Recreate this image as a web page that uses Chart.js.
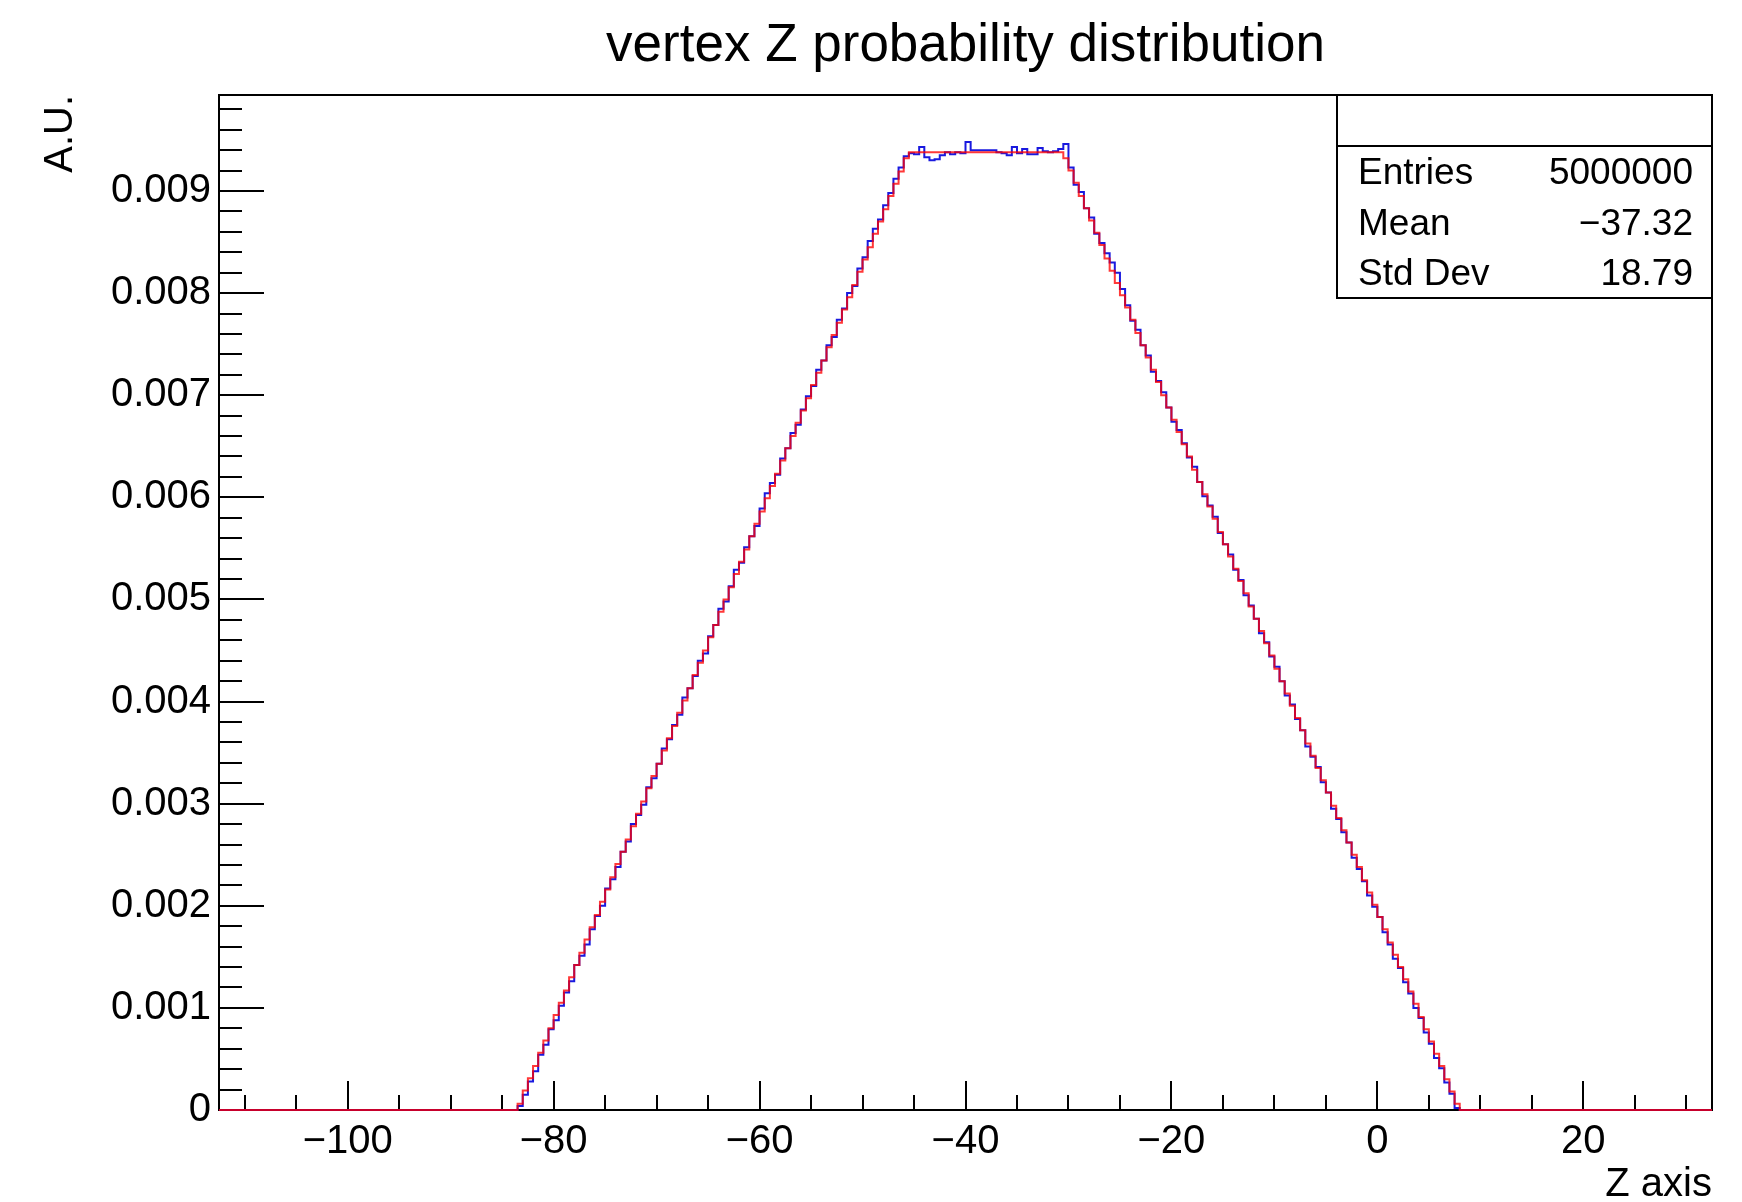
<!DOCTYPE html>
<html><head><meta charset="utf-8">
<script src="https://cdn.jsdelivr.net/npm/chart.js@4.4.0/dist/chart.umd.min.js"></script>
<style>html,body{margin:0;padding:0;background:#fff;}canvas{display:block;}</style>
</head><body>
<canvas id="c" width="1742" height="1202"></canvas>
<script>
// ---------- text ----------
const chartTitle = 'vertex Z probability distribution';
const xAxisTitle = 'Z axis';
const yAxisTitle = 'A.U.';
const statsLabels = ['Entries', 'Mean', 'Std Dev'];
const statsValues = ['5000000', '\u221237.32', '18.79'];

// ---------- binning / ticks ----------
const binLow = -112.5, binHigh = 32.5, binWidth = 0.5;
const firstFilledBin = 59;          // first non-empty bin (starts at z = -83)
const yMax = 0.00994;
const xMajorTicks = [-100, -80, -60, -40, -20, 0, 20];
const xMinorStep = 5;
const yMajorTicks = [0, 0.001, 0.002, 0.003, 0.004, 0.005, 0.006, 0.007, 0.008, 0.009];
const yMinorStep = 0.0002;

// ---------- model (red) bin contents ----------
const modelRise = [0.00006,0.00019,0.00031,0.00043,0.00056,0.00068,0.00080,0.00093,0.00105,0.00117,
0.00130,0.00142,0.00154,0.00167,0.00179,0.00191,0.00204,0.00216,0.00228,0.00241,
0.00253,0.00265,0.00278,0.00290,0.00302,0.00315,0.00327,0.00339,0.00352,0.00364,
0.00376,0.00389,0.00401,0.00413,0.00426,0.00438,0.00450,0.00463,0.00475,0.00488,
0.00500,0.00512,0.00525,0.00537,0.00549,0.00562,0.00574,0.00586,0.00599,0.00611,
0.00623,0.00636,0.00648,0.00660,0.00673,0.00685,0.00697,0.00710,0.00722,0.00734,
0.00747,0.00759,0.00771,0.00784,0.00796,0.00808,0.00821,0.00833,0.00845,0.00858,
0.00870,0.00882,0.00895,0.00907,0.00919,0.00932];
const modelFlat = [0.00938,0.00938,0.00938,0.00938,0.00938,0.00938,0.00938,0.00938,0.00938,0.00938,
0.00938,0.00938,0.00938,0.00938,0.00938,0.00938,0.00938,0.00938,0.00938,0.00938,
0.00938,0.00938,0.00938,0.00938,0.00938,0.00938,0.00938,0.00938,0.00938,0.00938];
const modelFall = [0.00932,0.00920,0.00908,0.00895,0.00883,0.00871,0.00859,0.00847,0.00834,0.00822,
0.00810,0.00798,0.00786,0.00774,0.00761,0.00749,0.00737,0.00725,0.00713,0.00700,
0.00688,0.00676,0.00664,0.00652,0.00640,0.00627,0.00615,0.00603,0.00591,0.00579,
0.00566,0.00554,0.00542,0.00530,0.00518,0.00506,0.00493,0.00481,0.00469,0.00457,
0.00445,0.00432,0.00420,0.00408,0.00396,0.00384,0.00372,0.00359,0.00347,0.00335,
0.00323,0.00311,0.00298,0.00286,0.00274,0.00262,0.00250,0.00238,0.00225,0.00213,
0.00201,0.00189,0.00177,0.00164,0.00152,0.00140,0.00128,0.00116,0.00104,0.00091,
0.00079,0.00067,0.00055,0.00043,0.00030,0.00018,0.00006];

// ---------- data (blue) bin contents ----------
const dataRise = [0.00004,0.00015,0.00028,0.00038,0.00054,0.00064,0.00079,0.00088,0.00102,0.00115,
0.00126,0.00142,0.00151,0.00162,0.00177,0.00190,0.00200,0.00217,0.00226,0.00238,
0.00253,0.00263,0.00280,0.00289,0.00299,0.00316,0.00325,0.00339,0.00354,0.00363,
0.00377,0.00387,0.00404,0.00413,0.00425,0.00440,0.00447,0.00464,0.00475,0.00491,
0.00498,0.00513,0.00529,0.00536,0.00551,0.00562,0.00572,0.00589,0.00604,0.00614,
0.00622,0.00638,0.00648,0.00663,0.00671,0.00686,0.00699,0.00709,0.00725,0.00734,
0.00749,0.00757,0.00774,0.00785,0.00800,0.00807,0.00824,0.00835,0.00851,0.00863,
0.00872,0.00886,0.00898,0.00912,0.00923,0.00934];
const dataFlat = [0.00937,0.00936,0.00943,0.00933,0.00930,0.00931,0.00935,0.00938,0.00936,0.00938,
0.00937,0.00948,0.00940,0.00940,0.00940,0.00940,0.00940,0.00938,0.00937,0.00935,
0.00943,0.00937,0.00941,0.00936,0.00936,0.00942,0.00939,0.00938,0.00939,0.00941];
const dataFall = [0.00946,0.00923,0.00906,0.00899,0.00883,0.00874,0.00858,0.00849,0.00839,0.00830,
0.00820,0.00804,0.00788,0.00773,0.00764,0.00749,0.00739,0.00723,0.00714,0.00703,
0.00688,0.00674,0.00666,0.00653,0.00639,0.00630,0.00615,0.00601,0.00592,0.00581,
0.00565,0.00554,0.00544,0.00529,0.00519,0.00504,0.00494,0.00481,0.00467,0.00458,
0.00444,0.00434,0.00420,0.00406,0.00397,0.00383,0.00372,0.00356,0.00346,0.00336,
0.00321,0.00311,0.00295,0.00285,0.00272,0.00262,0.00247,0.00236,0.00224,0.00210,
0.00199,0.00189,0.00174,0.00162,0.00148,0.00139,0.00125,0.00114,0.00100,0.00090,
0.00076,0.00065,0.00051,0.00041,0.00027,0.00016,0.00002];

// ---------- build step-histogram points (bin edges) ----------
function histPoints(parts) {
  const filled = [].concat(...parts);
  const n = Math.round((binHigh - binLow) / binWidth);
  const vals = new Array(n).fill(0);
  filled.forEach((v, i) => { vals[firstFilledBin + i] = v; });
  const pts = vals.map((v, i) => ({ x: binLow + i * binWidth, y: v }));
  pts.push({ x: binHigh, y: vals[n - 1] });
  return pts;
}

const FONT = "'Liberation Sans', Arial, Helvetica, sans-serif";
const fmtX = v => v < 0 ? '\u2212' + Math.abs(v) : String(v);
const fmtY = v => v === 0 ? '0' : v.toFixed(3);

const rootStyle = {
  id: 'rootStyle',
  beforeDatasetsDraw(chart) {
    const { ctx, chartArea: a, scales } = chart;
    const xs = scales.x, ys = scales.y;
    ctx.save();
    ctx.strokeStyle = '#000';
    ctx.lineWidth = 2;
    ctx.strokeRect(a.left, a.top, a.right - a.left, a.bottom - a.top);
    ctx.beginPath();
    // x ticks (inward, from bottom)
    for (let v = -110; v <= binHigh + 1e-9; v += xMinorStep) {
      const px = Math.round(xs.getPixelForValue(v));
      const major = xMajorTicks.includes(v);
      ctx.moveTo(px, a.bottom);
      ctx.lineTo(px, a.bottom - (major ? 29 : 15));
    }
    // y ticks (inward, from left)
    for (let k = 0; k * yMinorStep <= yMax + 1e-12; k++) {
      const v = k * yMinorStep;
      const py = Math.round(ys.getPixelForValue(v));
      const major = (k % 5 === 0);
      ctx.moveTo(a.left, py);
      ctx.lineTo(a.left + (major ? 45 : 23), py);
    }
    ctx.stroke();
    ctx.restore();
  },
  afterDatasetsDraw(chart) {
    const { ctx, chartArea: a } = chart;
    ctx.save();
    ctx.strokeStyle = '#000';
    ctx.lineWidth = 2;
    // stats box
    const bl = a.right - 375, bt = a.top, bw = 375, bh = 203, div = 51;
    ctx.fillStyle = '#fff';
    ctx.fillRect(bl, bt, bw, bh);
    ctx.strokeRect(bl, bt, bw, bh);
    ctx.beginPath();
    ctx.moveTo(bl, bt + div); ctx.lineTo(bl + bw, bt + div);
    ctx.stroke();
    ctx.fillStyle = '#000';
    ctx.font = '37px ' + FONT;
    ctx.textBaseline = 'alphabetic';
    statsLabels.forEach((lab, i) => {
      const by = bt + 89 + i * 50.5;
      ctx.textAlign = 'left';
      ctx.fillText(lab, bl + 21, by);
      ctx.textAlign = 'right';
      ctx.fillText(statsValues[i], bl + bw - 19, by);
    });
    ctx.restore();
  },
  afterDraw(chart) {
    const { ctx, chartArea: a } = chart;
    ctx.save();
    ctx.fillStyle = '#000';
    ctx.textBaseline = 'alphabetic';
    // title
    ctx.font = '53px ' + FONT;
    ctx.textAlign = 'center';
    ctx.fillText(chartTitle, (a.left + a.right) / 2, 61);
    // x axis title
    ctx.font = '40px ' + FONT;
    ctx.textAlign = 'right';
    ctx.fillText(xAxisTitle, a.right, 1196);
    // y axis title
    ctx.translate(72, a.top);
    ctx.rotate(-Math.PI / 2);
    ctx.textAlign = 'right';
    ctx.fillText(yAxisTitle, 0, 0);
    ctx.restore();
  }
};

new Chart(document.getElementById('c'), {
  type: 'line',
  data: {
    datasets: [
      {
        label: 'model',
        data: histPoints([modelRise, modelFlat, modelFall]),
        borderColor: 'rgba(255,0,0,0.78)',
        borderWidth: 2,
        stepped: 'after',
        pointRadius: 0,
        fill: false,
        clip: 4,
        order: 0
      },
      {
        label: 'data',
        data: histPoints([dataRise, dataFlat, dataFall]),
        borderColor: 'rgba(0,0,220,0.9)',
        borderWidth: 2,
        stepped: 'after',
        pointRadius: 0,
        fill: false,
        clip: 4,
        order: 1
      }
    ]
  },
  options: {
    responsive: false,
    animation: false,
    devicePixelRatio: 1,
    layout: { padding: { left: 0, right: 30, top: 95, bottom: 0 } },
    plugins: { legend: { display: false }, tooltip: { enabled: false }, title: { display: false } },
    scales: {
      x: {
        type: 'linear',
        min: binLow, max: binHigh,
        grid: { display: false, drawTicks: false },
        border: { display: false },
        afterBuildTicks: s => { s.ticks = xMajorTicks.map(v => ({ value: v })); },
        afterFit: s => { s.height = 92; },
        ticks: {
          autoSkip: false, maxRotation: 0, padding: 8,
          color: '#000', font: { family: FONT, size: 40 },
          callback: v => fmtX(v)
        }
      },
      y: {
        type: 'linear',
        min: 0, max: yMax,
        grid: { display: false, drawTicks: false },
        border: { display: false },
        afterBuildTicks: s => { s.ticks = yMajorTicks.map(v => ({ value: v })); },
        afterFit: s => { s.width = 219; },
        ticks: {
          autoSkip: false, padding: 8,
          color: '#000', font: { family: FONT, size: 40 },
          callback: v => fmtY(v)
        }
      }
    }
  },
  plugins: [rootStyle]
});
</script>
</body></html>
